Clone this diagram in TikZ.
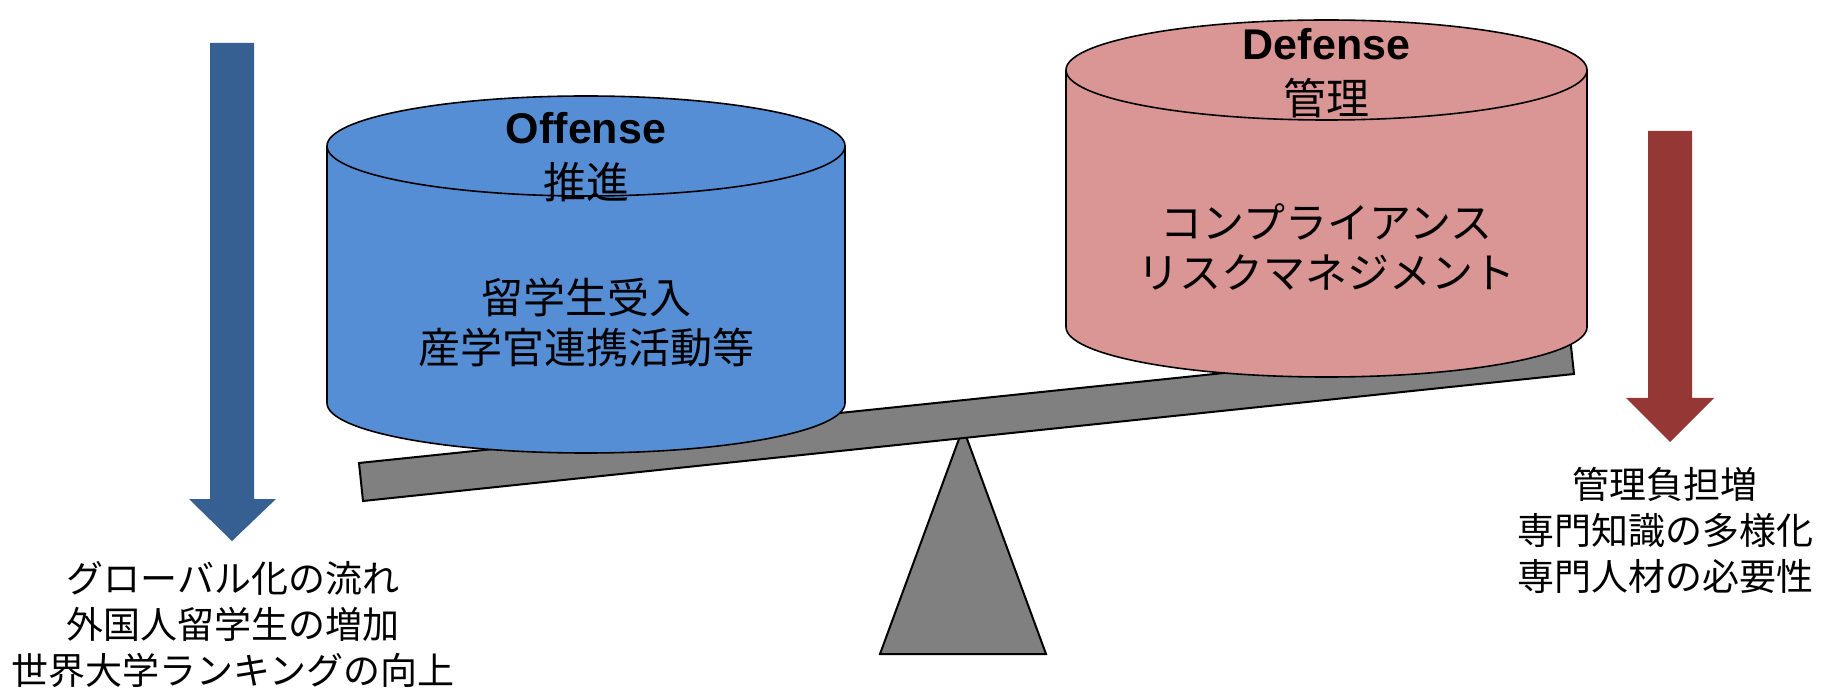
\documentclass[tikz,border=0pt]{standalone}
\usepackage{fontspec}
\setmainfont{Liberation Sans}
\newfontfamily\jp{Noto Sans CJK JP}
\definecolor{cylblue}{HTML}{558ED5}
\definecolor{cylpink}{HTML}{D99694}
\definecolor{arrblue}{HTML}{376092}
\definecolor{arrred}{HTML}{953735}
\definecolor{beamgray}{HTML}{808080}
\begin{document}
\begin{tikzpicture}[x=0.5pt,y=-0.5pt,
  solid/.style={draw=black,line width=1pt,line join=miter,fill=beamgray},
  cylline/.style={draw=black,line width=0.8pt},
  titlelbl/.style={align=center,font=\fontsize{21.5}{27.5}\selectfont,inner sep=0pt},
  innerlbl/.style={align=center,font=\jp\fontsize{21}{25}\selectfont,inner sep=0pt},
  sidelbl/.style={align=center,font=\jp\fontsize{18.5}{23}\selectfont,inner sep=0pt}]
\useasboundingbox (0,0) rectangle (1831,689);

% arrows
\fill[arrblue] (210,43) -- (254,43) -- (254,499) -- (276,499) -- (232,541) -- (189,499) -- (210,499) -- cycle;
\fill[arrred] (1648,131) -- (1692,131) -- (1692,398) -- (1714,398) -- (1670,442) -- (1626,398) -- (1648,398) -- cycle;

% fulcrum and beam
\draw[solid] (963,428) -- (1046,654) -- (880,654) -- cycle;
\draw[solid] (359,463) -- (1570,337) -- (1574,374) -- (363,501) -- cycle;

% blue cylinder
\fill[cylblue] (327,146) -- (327,403) arc[start angle=180,end angle=360,x radius=129.5pt,y radius=25pt] -- (845,146) -- cycle;
\draw[cylline] (327,146) -- (327,403) arc[start angle=180,end angle=360,x radius=129.5pt,y radius=25pt] -- (845,146);
\draw[cylline,fill=cylblue] (586,146) ellipse[x radius=129.5pt,y radius=25pt];

% pink cylinder
\fill[cylpink] (1066,70) -- (1066,327) arc[start angle=180,end angle=360,x radius=130.25pt,y radius=25pt] -- (1587,70) -- cycle;
\draw[cylline] (1066,70) -- (1066,327) arc[start angle=180,end angle=360,x radius=130.25pt,y radius=25pt] -- (1587,70);
\draw[cylline,fill=cylpink] (1326.5,70) ellipse[x radius=130.25pt,y radius=25pt];

% labels
\node[titlelbl] (offtitle) at (586,157) {\textbf{Offense}\\{\jp 推進}};
\node[innerlbl] (offbody) at (586,323) {留学生受入\\産学官連携活動等};
\node[titlelbl] (deftitle) at (1326.5,73) {\textbf{Defense}\\{\jp 管理}};
\node[innerlbl] (defbody) at (1326.5,247) {コンプライアンス\\リスクマネジメント};
\node[sidelbl] (lefttext) at (233,625) {グローバル化の流れ\\外国人留学生の増加\\世界大学ランキングの向上};
\node[sidelbl] (righttext) at (1665,530) {管理負担増\\専門知識の多様化\\専門人材の必要性};
\end{tikzpicture}
\end{document}
